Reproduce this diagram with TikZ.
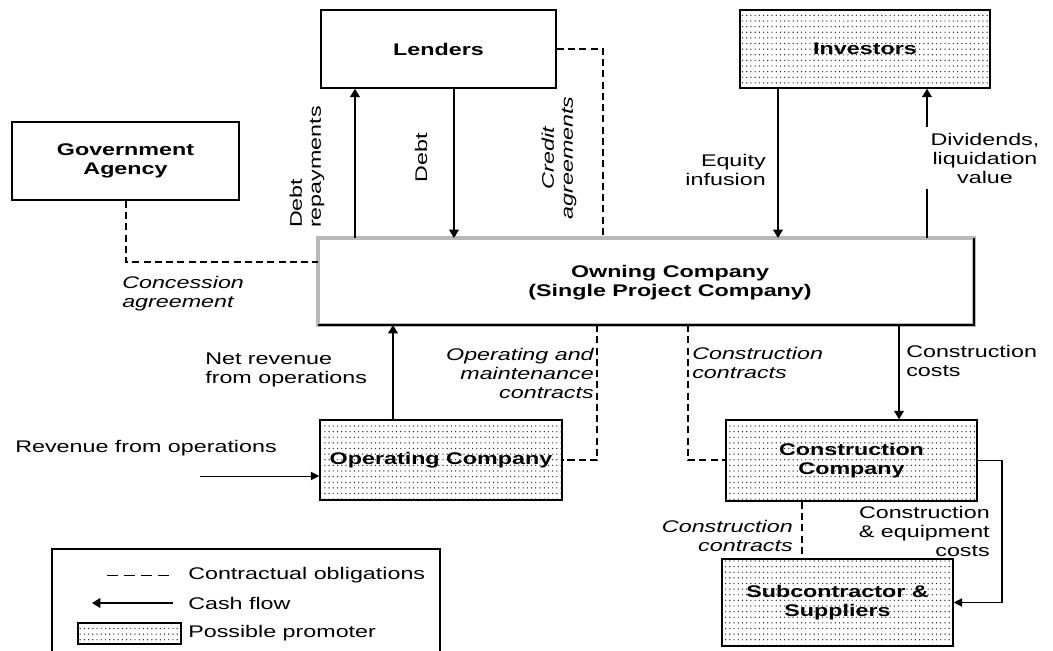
\documentclass[tikz,border=0pt]{standalone}
\usepackage{fontspec}
\setmainfont[FakeStretch=1.38]{Liberation Sans}
\usetikzlibrary{positioning,arrows.meta,patterns}

\pgfdeclarepatternformonly{promodots}{\pgfqpoint{-1pt}{-1pt}}{\pgfqpoint{1pt}{1pt}}{\pgfqpoint{3pt}{4pt}}%
{\pgfpathcircle{\pgfqpoint{0pt}{0pt}}{0.5pt}\pgfusepath{fill}}

\begin{document}
\begin{tikzpicture}[x=0.025cm, y=-0.025cm,
    every node/.style={font=\fontsize{12}{13.5}\selectfont, inner sep=0pt},
    box/.style n args={2}{minimum width=#1*0.025cm, minimum height=#2*0.025cm},
    party/.style={draw, line width=1.1pt, font=\fontsize{12}{13.5}\selectfont\bfseries, align=center},
    promoter/.style={party, pattern=promodots, pattern color=black!85},
    cash/.style={-{Triangle[width=7pt,length=6pt]}, line width=1pt},
    thincash/.style={-{Triangle[width=6pt,length=6pt]}, line width=0.6pt},
    contract/.style={dash pattern=on 5pt off 3pt, line width=0.9pt},
    italbl/.style={font=\fontsize{12}{13.5}\selectfont\itshape}]
    \useasboundingbox (0,0) rectangle (1053,651);

    % Parties
    \node[party, box={235}{78}] (lenders) at (438.5,49) {Lenders};
    \node[party, box={227}{78}] (govt) at (125.5,161) {Government\\Agency};
    \node[promoter, box={250}{78}] (investors) at (865,49) {Investors};
    \node[draw=gray!55, line width=3pt, outer sep=0pt, box={656}{87}] (owning) at (646,281.5) {};
    \draw[line width=1.1pt] (owning.north east) -- (owning.south east) -- (owning.south west);
    \node[font=\fontsize{12}{13.5}\selectfont\bfseries, align=center] (owningtxt) at (670,283)
        {Owning Company\\(Single Project Company)};
    \node[promoter, box={242}{80}] (opco) at (441,460) {Operating Company};
    \node[promoter, box={251}{81}] (conco) at (851.5,460.5) {Construction\\Company};
    \node[promoter, box={231}{87}] (subco) at (837.5,602.5) {Subcontractor \&\\Suppliers};

    % Bend points
    \coordinate (xdr) at (355,0);
    \coordinate (xdebt) at (454,0);
    \coordinate (xcred) at (603,0);
    \coordinate (xgov) at (126,262);
    \coordinate (xeq) at (778,0);
    \coordinate (xdiv) at (927,0);
    \coordinate (xnet) at (393,0);
    \coordinate (xom) at (597,460);
    \coordinate (xcc) at (688,460);
    \coordinate (xcost) at (899,0);
    \coordinate (xce) at (1002,0);
    \coordinate (xsub) at (802,0);
    \coordinate (xrev) at (200,476);

    % Flows above the owning company
    \draw[cash] (owning.north -| xdr) -- (lenders.south -| xdr);
    \draw[cash] (lenders.south -| xdebt) -- (owning.north -| xdebt);
    \draw[contract] (lenders.east) -| (owning.north -| xcred);
    \draw[contract] (govt.south -| xgov) |- (owning.west |- xgov);
    \draw[cash] (investors.south -| xeq) -- (owning.north -| xeq);
    \draw[cash] (owning.north -| xdiv) -- (investors.south -| xdiv);

    \node[rotate=90, align=left] (drlbl) at (307,167) {Debt\\repayments};
    \node[rotate=90] (debtlbl) at (421,158) {Debt};
    \node[italbl, rotate=90, align=center] (credlbl) at (559,158) {Credit\\agreements};
    \node[align=right, anchor=east] (eqlbl) at (766,170) {Equity\\infusion};
    \node[align=center, fill=white, inner sep=4pt] (divlbl) at (985,158) {Dividends,\\liquidation\\value};
    \node[italbl, align=left, anchor=west] (conclbl) at (122,294) {Concession\\agreement};

    % Flows below the owning company
    \draw[cash] (opco.north -| xnet) -- (owning.south -| xnet);
    \draw[contract] (owning.south -| xom) |- (opco.east |- xom);
    \draw[contract] (owning.south -| xcc) |- (conco.west |- xcc);
    \draw[cash] (owning.south -| xcost) -- (conco.north -| xcost);
    \draw[thincash, line width=0.8pt] (conco.east) -| (xce |- subco.east) -- (subco.east);
    \draw[contract] (conco.south -| xsub) -- (subco.north -| xsub);
    \draw[thincash] (xrev) -- (opco.west |- xrev);

    \node[align=left, anchor=west] (netlbl) at (205,370) {Net revenue\\from operations};
    \node[anchor=west] (revlbl) at (15,448) {Revenue from operations};
    \node[italbl, align=right, anchor=east] (omlbl) at (594,373) {Operating and\\maintenance\\contracts};
    \node[italbl, align=left, anchor=west] (cclbl) at (692,363) {Construction\\contracts};
    \node[align=left, anchor=west] (costlbl) at (906,361) {Construction\\costs};
    \node[italbl, align=right, anchor=east] (subcclbl) at (793,536) {Construction\\contracts};
    \node[align=right, anchor=east] (celbl) at (990,531) {Construction\\\& equipment\\costs};

    % Legend
    \node[draw, line width=0.8pt, box={388}{121}] (legend) at (246,609.5) {};
    \coordinate (ka) at (107,575);
    \coordinate (kb) at (173,575);
    \coordinate (kc) at (173,603);
    \coordinate (kd) at (92,603);
    \draw[dash pattern=on 8pt off 4pt, line width=0.5pt] (ka) -- (kb);
    \draw[cash] (kc) -- (kd);
    \node[promoter, line width=0.9pt, box={103}{21}] (keybox) at (129.5,633.5) {};
    \node[anchor=west] (k1) at (188,575) {Contractual obligations};
    \node[anchor=west] (k2) at (188,603) {Cash flow};
    \node[anchor=west] (k3) at (188,633) {Possible promoter};
\end{tikzpicture}
\end{document}
